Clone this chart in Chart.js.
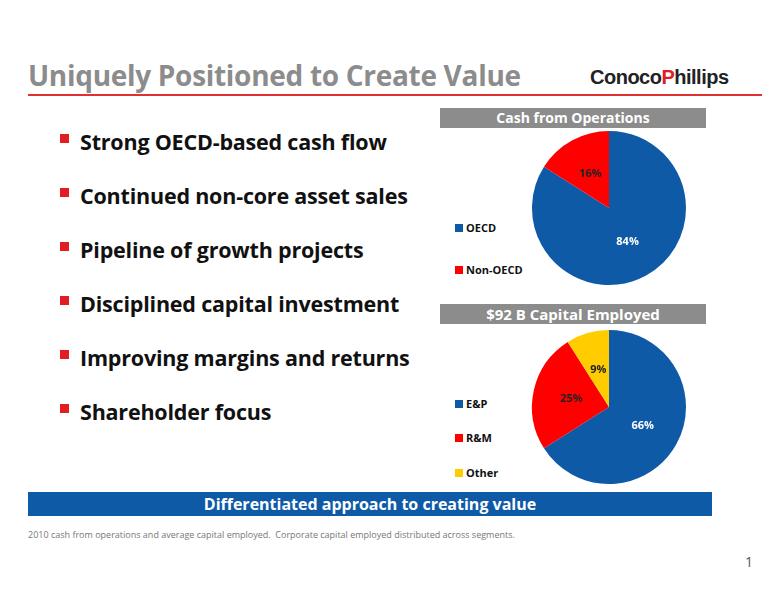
<!DOCTYPE html>
<html>
<head>
<meta charset="utf-8">
<script src="https://cdn.jsdelivr.net/npm/chart.js@4"></script>
<style>
  body { margin: 0; width: 776px; height: 600px; background: #fff; font-family: "Open Sans", sans-serif; position: relative; overflow: hidden; }
  .abs { position: absolute; }
  #title { left: 28px; top: 56px; font-size: 28px; font-weight: bold; color: #8c8c8c; letter-spacing: -0.3px; }
  #rule { left: 28px; top: 94px; width: 734px; height: 2px; background: #e03030; }
  #logo { left: 590px; top: 66px; font-family: "Liberation Sans", sans-serif; font-size: 20px; font-weight: bold; color: #222; letter-spacing: -0.5px; }
  #logo span { color: #e31b23; }
  ul { left: 60px; top: 127px; margin: 0; padding: 0; list-style: none; }
  li { font-size: 21.5px; font-weight: bold; color: #111; height: 54px; padding-left: 20px; position: relative; letter-spacing: -0.2px; }
  li::before { content: ""; position: absolute; left: 0; top: 7px; width: 9px; height: 9px; background: #e31b23; }
  .hdr { left: 440px; width: 266px; height: 20px; background: #8c8c8c; color: #fff; font-weight: bold; font-size: 14px; text-align: center; line-height: 20px; }
  .leg { left: 455px; font-size: 11px; font-weight: bold; color: #111; }
  .leg i { display: inline-block; width: 8px; height: 8px; margin-right: 3px; }
  canvas { position: absolute; }
  #banner { left: 28px; top: 492px; width: 684px; height: 24px; background: #0f5aa6; color: #fff; font-weight: bold; font-size: 16px; text-align: center; line-height: 24px; }
  #foot { left: 28px; top: 528px; font-size: 9px; color: #777; }
  #page { left: 745px; top: 552px; font-size: 14px; color: #555; }
</style>
</head>
<body>
<div id="title" class="abs">Uniquely Positioned to Create Value</div>
<div id="rule" class="abs"></div>
<div id="logo" class="abs">Conoco<span>P</span>hillips</div>
<ul class="abs">
  <li>Strong OECD-based cash flow</li>
  <li>Continued non-core asset sales</li>
  <li>Pipeline of growth projects</li>
  <li>Disciplined capital investment</li>
  <li>Improving margins and returns</li>
  <li>Shareholder focus</li>
</ul>
<div class="abs hdr" style="top:108px">Cash from Operations</div>
<div class="abs leg" style="top:220px"><i style="background:#0f5aa6"></i>OECD</div>
<div class="abs leg" style="top:262px"><i style="background:#ff0000"></i>Non-OECD</div>
<canvas id="c1" width="170" height="170" style="left:524px;top:123px"></canvas>
<div class="abs hdr" style="top:304px;font-size:15px">$92 B Capital Employed</div>
<div class="abs leg" style="top:396px"><i style="background:#0f5aa6"></i>E&amp;P</div>
<div class="abs leg" style="top:430px"><i style="background:#ff0000"></i>R&amp;M</div>
<div class="abs leg" style="top:465px"><i style="background:#ffcc00"></i>Other</div>
<canvas id="c2" width="170" height="170" style="left:524px;top:322px"></canvas>
<div id="banner" class="abs">Differentiated approach to creating value</div>
<div id="foot" class="abs">2010 cash from operations and average capital employed.&nbsp; Corporate capital employed distributed across segments.</div>
<div id="page" class="abs">1</div>
<script>
const cashLabels = ['OECD', 'Non-OECD'];
const cashValues = [84, 16];
const capLabels = ['E&P', 'R&M', 'Other'];
const capValues = [66, 25, 9];
const colors = ['#0f5aa6', '#ff0000', '#ffcc00'];

// percent labels on each slice
const pctLabels = {
  id: 'pctLabels',
  afterDatasetsDraw(chart) {
    const { ctx } = chart;
    const ds = chart.data.datasets[0];
    chart.getDatasetMeta(0).data.forEach((arc, i) => {
      const p = arc.tooltipPosition();
      ctx.save();
      ctx.font = 'bold 11px "Open Sans", sans-serif';
      ctx.fillStyle = ds.backgroundColor[i] === '#0f5aa6' ? '#fff' : '#222';
      ctx.textAlign = 'center';
      ctx.textBaseline = 'middle';
      ctx.fillText(`${ds.data[i]}%`, p.x, p.y);
      ctx.restore();
    });
  },
};

function makePie(id, labels, data) {
  // eslint-disable-next-line no-new
  new Chart(document.getElementById(id), {
    type: 'pie',
    data: {
      labels,
      datasets: [{ data, backgroundColor: colors.slice(0, data.length), borderWidth: 0 }],
    },
    options: {
      responsive: false,
      animation: false,
      layout: { padding: 8 },
      plugins: { legend: { display: false }, tooltip: { enabled: false } },
    },
    plugins: [pctLabels],
  });
}

makePie('c1', cashLabels, cashValues);
makePie('c2', capLabels, capValues);
</script>
</body>
</html>
